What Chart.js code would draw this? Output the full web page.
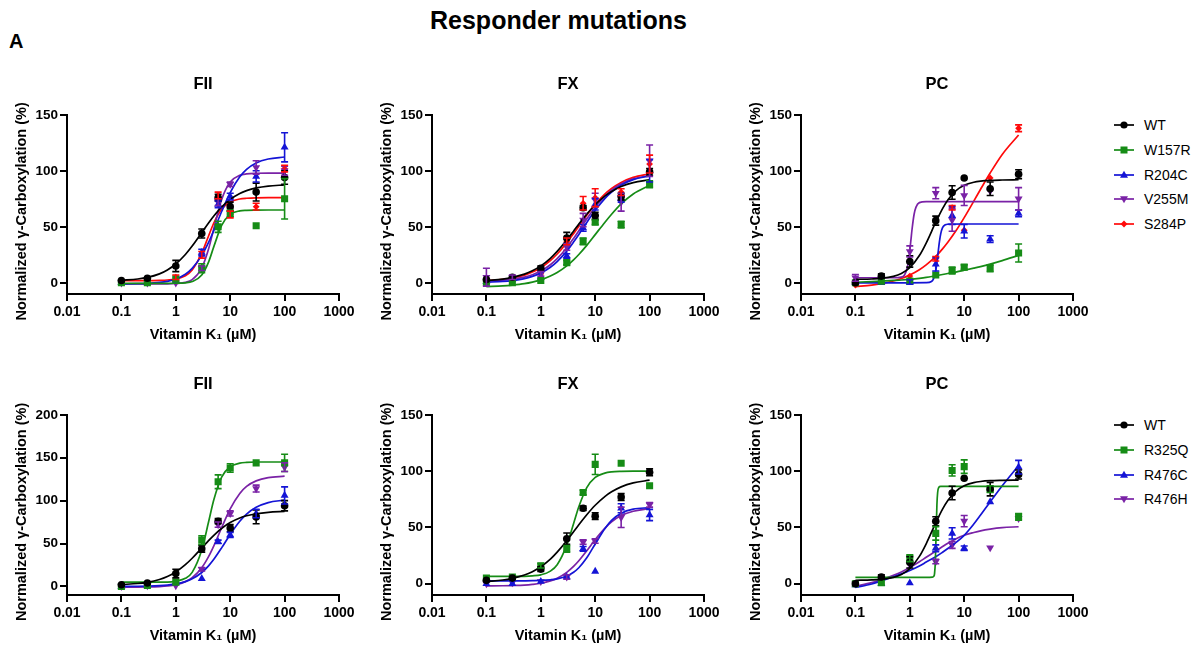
<!DOCTYPE html>
<html>
<head>
<meta charset="utf-8">
<script src="https://cdn.jsdelivr.net/npm/chart.js@4.4.1/dist/chart.umd.min.js"></script>
<style>
  body { margin: 0; width: 1199px; height: 646px; background: #fff; position: relative; overflow: hidden;
         font-family: "Liberation Sans", Arial, sans-serif; color: #000; }
  canvas { position: absolute; }
  #title { position: absolute; left: 0; width: 1117px; top: 6px; text-align: center; font-weight: bold; font-size: 25px; line-height: 28px; }
  #letter { position: absolute; left: 9px; top: 31px; font-weight: bold; font-size: 20px; line-height: 20px; }
  .leg { position: absolute; left: 1114px; height: 16px; white-space: nowrap; }
  .leg svg { position: absolute; left: 0; top: 2px; }
  .leg span { position: absolute; left: 30px; top: 0; font-size: 14px; line-height: 16px; }
</style>
</head>
<body>
<div id="title">Responder mutations</div>
<div id="letter">A</div>

<canvas id="topFII" width="360" height="280" style="left:0px;top:70px"></canvas>
<canvas id="topFX" width="360" height="280" style="left:365px;top:70px"></canvas>
<canvas id="topPC" width="360" height="280" style="left:734px;top:70px"></canvas>
<canvas id="botFII" width="360" height="281" style="left:0px;top:370px"></canvas>
<canvas id="botFX" width="360" height="281" style="left:365px;top:370px"></canvas>
<canvas id="botPC" width="360" height="281" style="left:734px;top:370px"></canvas>

<script>
// doses (µM) for the measured points and for the fitted curves
const doses = [0.1, 0.3, 1, 3, 6, 10, 30, 100];
const fitDoses = [0.1, 0.2, 0.3, 0.5, 0.7, 1, 1.5, 2, 3, 4, 5, 7, 10, 15, 20, 30, 50, 100];
const xTicks = [0.01, 0.1, 1, 10, 100, 1000];
const yTicks150 = [0, 50, 100, 150];
const yTicks200 = [0, 50, 100, 150, 200];

const legendTop = ['WT', 'W157R', 'R204C', 'V255M', 'S284P'];
const legendBottom = ['WT', 'R325Q', 'R476C', 'R476H'];

// WT (same measurements in both rows)
const wtFII = [2, 4, 15, 44, 76, 68, 81, 94];
const wtFIIsd = [1, 1, 5, 4, 3, 4, 8, 6];
const wtFIIfit = [2.2, 3.4, 4.8, 8.0, 11.5, 16.8, 25.3, 32.8, 44.8, 53.4, 59.6, 67.8, 74.5, 79.8, 82.3, 84.7, 86.4, 87.4];
const wtFX = [3, 5, 13, 40, 67, 60, 77, 99];
const wtFXsd = [1, 1, 2, 5, 2, 3, 3, 3];
const wtFXfit = [2.0, 3.3, 4.8, 7.7, 10.7, 15.1, 21.9, 28.1, 38.2, 46.1, 52.4, 61.3, 69.7, 77.4, 81.6, 86.0, 89.5, 92.0];
const wtPC = [0, 6, 19, 55.5, 80.6, 93.6, 84, 97];
const wtPCsd = [1, 2, 5, 4, 6, 1, 6, 4];
const wtPCfit = [3.1, 3.4, 3.9, 5.7, 8.3, 13.5, 24.3, 35.5, 54.1, 66.3, 74.0, 82.1, 87.0, 89.8, 90.8, 91.5, 91.8, 92.0];

// top row, FII
const w157rFII = [0, 0, 3.5, 13, 50, 62, 51, 75];
const w157rFIIsd = [0, 0, 1, 4, 5, 3, 0, 18];
const w157rFIIfit = [-0.5, -0.5, -0.5, -0.5, -0.5, -0.4, 0.0, 1.1, 7.0, 18.5, 32.3, 51.5, 61.1, 64.2, 64.7, 64.9, 65.0, 65.0];
const r204cFII = [0, 0, 2, 27, 70, 77, 95, 121];
const r204cFIIsd = [0, 0, 1, 3, 3, 3, 5, 13];
const r204cFIIfit = [-0.9, -0.8, -0.5, 0.3, 1.3, 3.4, 7.7, 12.9, 24.5, 36.1, 46.7, 63.9, 80.5, 94.6, 101.3, 107.0, 110.5, 112.3];
const v255mFII = [0, 0, 0, 13, 72, 88, 103, 100];
const v255mFIIsd = [0, 0, 0, 2, 3, 2, 6, 4];
const v255mFIIfit = [-1, -1, -1, -1, -1, -0.6, 0.4, 2.9, 13.2, 30.1, 48.5, 74.7, 90.0, 95.9, 97.2, 97.8, 98.0, 98.0];
const s284pFII = [1, 1, 5, 25, 78, 61, 68, 102];
const s284pFIIsd = [0, 0, 2, 3, 3, 3, 3, 3];
const s284pFIIfit = [2.0, 2.0, 2.0, 2.2, 2.5, 3.3, 6.3, 11.4, 26.4, 41.8, 53.4, 65.8, 72.1, 74.8, 75.5, 75.9, 76.0, 76.0];

// top row, FX
const w157rFX = [0, 0, 2, 18, 37, 54, 52, 88];
const w157rFXsd = [1, 1, 1, 2, 3, 2, 3, 3];
const w157rFXfit = [-3.4, -2.8, -2.1, -0.8, 0.6, 2.6, 6.0, 9.2, 15.1, 20.5, 25.3, 33.4, 43.0, 53.9, 61.2, 70.4, 79.3, 87.0];
const r204cFX = [1, 3, 5, 24, 49, 70, 75, 100];
const r204cFXsd = [1, 1, 1, 2, 3, 5, 3, 10];
const r204cFXfit = [0.5, 1.2, 2.0, 3.7, 5.7, 8.7, 13.9, 19.0, 28.3, 36.4, 43.2, 53.9, 64.7, 75.2, 81.0, 87.2, 92.1, 95.5];
const v255mFX = [5, 5, 8, 32, 56, 74, 72, 109];
const v255mFXsd = [8, 2, 2, 3, 6, 6, 8, 14];
const v255mFXfit = [1.5, 2.3, 3.2, 5.1, 7.2, 10.5, 16.1, 21.5, 31.3, 39.6, 46.5, 57.0, 67.4, 77.3, 82.7, 88.4, 92.8, 95.8];
const s284pFX = [2, 4, 8, 37, 71, 76, 81, 106];
const s284pFXsd = [1, 1, 1, 3, 6, 8, 3, 8];
const s284pFXfit = [1.9, 3.0, 4.3, 6.9, 9.6, 13.5, 19.9, 25.7, 35.8, 43.9, 50.5, 60.4, 70.0, 79.1, 84.2, 89.6, 94.1, 97.4];

// top row, PC
const w157rPC = [0, 1.5, 1.5, 7, 11, 14, 13, 26.6];
const w157rPCsd = [0, 1, 1, 1, 3, 2, 3, 8];
const w157rPCfit = [0.5, 1.1, 1.5, 2.1, 2.5, 3.1, 4.0, 4.8, 6.3, 7.4, 8.3, 9.6, 11.2, 13.1, 14.5, 16.7, 19.8, 24.5];
const r204cPC = [0, 0, 0.7, 16.5, 60, 46, 39, 62];
const r204cPCsd = [0, 0, 2, 6, 8, 6, 3, 3];
const r204cPCfitX = [0.1, 1, 2, 2.5, 2.7, 2.9, 3.1, 3.3, 3.5, 3.7, 4, 4.5, 5, 10, 100];
const r204cPCfit = [0, 0, 0.1, 1.1, 3.0, 7.4, 15.4, 26.3, 36.5, 43.7, 49.2, 51.8, 52.3, 52.5, 52.5];
const v255mPC = [4.4, 4, 28, 80, 56, 78, 82, 75];
const v255mPCsd = [3, 1, 5, 5, 10, 9, 0, 10];
const v255mPCfitX = [0.1, 0.3, 0.5, 0.7, 0.8, 0.9, 0.95, 1, 1.05, 1.1, 1.2, 1.3, 1.5, 2, 10, 100];
const v255mPCfit = [4.5, 4.5, 4.5, 5.0, 7.0, 13.7, 20.0, 28.8, 38.5, 47.8, 61.2, 67.6, 71.6, 72.5, 72.5, 72.5];
const s284pPC = [-2, 1, 6, 21.5, 67, 47, 93.6, 138];
const s284pPCsd = [0, 0, 1, 2, 2, 0, 1, 3];
const s284pPCfit = [-3.4, -2.0, -0.7, 1.6, 3.8, 7.0, 11.7, 16.0, 23.6, 30.3, 36.2, 46.2, 58.2, 72.9, 83.5, 98.0, 114.6, 132.0];

// bottom row, FII
const r325qFII = [0, 1, 5, 54, 122, 138, 144, 144];
const r325qFIIsd = [0, 0, 1, 5, 8, 5, 1, 10];
const r325qFIIfit = [5.0, 5.0, 5.0, 5.0, 5.0, 6.1, 9.4, 16.4, 42.4, 75.0, 101.0, 127.7, 139.5, 143.6, 144.5, 145.0, 145.0, 145.0];
const r476cFII = [0, 1, 4, 9, 52, 60, 85, 106];
const r476cFIIsd = [0, 0, 1, 1, 2, 3, 5, 10];
const r476cFIIfit = [0.1, 0.2, 0.4, 0.9, 1.6, 2.9, 5.6, 8.8, 16.2, 24.0, 31.6, 45.2, 60.6, 75.9, 84.3, 92.2, 97.7, 100.6];
const r476hFII = [0, 1, 1, 20, 72, 85, 114, 139];
const r476hFIIsd = [0, 0, 1, 2, 3, 3, 4, 5];
const r476hFIIfit = [-1.0, -0.9, -0.7, -0.2, 0.5, 2.0, 5.6, 10.2, 21.8, 34.7, 47.3, 68.8, 90.4, 108.4, 116.6, 123.0, 126.8, 128.5];

// bottom row, FX
const r325qFX = [5, 6, 16, 31, 81, 106, 107, 87];
const r325qFXsd = [1, 1, 2, 3, 2, 9, 1, 1];
const r325qFXfit = [6.5, 6.5, 6.5, 6.6, 7.0, 7.9, 11.2, 16.9, 34.3, 53.3, 68.3, 85.3, 94.4, 98.2, 99.3, 99.8, 100.0, 100.0];
const r476cFX = [0, 0, 2, 6, 31, 11, 67, 61];
const r476cFXsd = [0, 0, 1, 1, 2, 1, 4, 5];
const r476cFXfit = [2.5, 2.5, 2.5, 2.6, 2.7, 2.9, 3.5, 4.3, 6.8, 10.2, 14.2, 23.0, 35.3, 48.9, 56.3, 62.6, 66.2, 67.6];
const r476hFX = [0, 1, 2, 6, 37, 38, 59, 70];
const r476hFXsd = [0, 0, 1, 2, 2, 2, 9, 2];
const r476hFXfit = [-1.9, -1.8, -1.6, -1.2, -0.6, 0.4, 2.5, 4.9, 10.1, 15.4, 20.4, 29.3, 39.2, 49.2, 54.9, 60.5, 64.4, 66.8];

// bottom row, PC
const r325qPC = [0, 1, 22.6, 44.7, 100.6, 104, 84, 59.4];
const r325qPCsd = [0, 1, 3, 6, 5, 6, 3, 3];
const r325qPCfitX = [0.1, 1, 2, 2.6, 2.75, 2.85, 2.95, 3.05, 3.15, 3.25, 3.4, 3.7, 10, 100];
const r325qPCfit = [5.6, 5.6, 5.6, 5.8, 6.5, 9, 20, 46, 70, 81, 85.5, 86.4, 86.5, 86.5];
const r476cPC = [-1, 0, 0.6, 31.5, 44.7, 31.5, 72.6, 103.5];
const r476cPCsd = [0, 0, 0, 3, 5, 2, 1, 6];
const r476cPCfit = [-3.2, -0.2, 2.6, 6.2, 8.8, 11.8, 15.8, 19.2, 24.0, 28.0, 31.3, 36.5, 43.0, 53.0, 61.0, 72.6, 87.0, 105.0];
const r476hPC = [0, 2, 17, 19.7, 34.4, 55.6, 32, 58];
const r476hPCsd = [0, 0, 1, 2, 3, 5, 0, 0];
const r476hPCfit = [-2.3, 1.0, 3.5, 7.5, 10.5, 14.4, 19.5, 23.5, 29.0, 33.0, 36.0, 39.8, 43.0, 45.5, 47.0, 48.5, 49.8, 50.6];

// look of each genotype
const GREEN = '#168c16', BLUE = '#1414d6', PURPLE = '#7a22a6', RED = '#ff0a0a';
const styles = {
  WT:    { color: '#000000', marker: 'circle',   radius: 3.8, rotation: 0 },
  W157R: { color: GREEN,     marker: 'rect',     radius: 5,   rotation: 0 },
  R325Q: { color: GREEN,     marker: 'rect',     radius: 5,   rotation: 0 },
  R204C: { color: BLUE,      marker: 'triangle', radius: 4.6, rotation: 0 },
  R476C: { color: BLUE,      marker: 'triangle', radius: 4.6, rotation: 0 },
  V255M: { color: PURPLE,    marker: 'triangle', radius: 4.6, rotation: 180 },
  R476H: { color: PURPLE,    marker: 'triangle', radius: 4.6, rotation: 180 },
  S284P: { color: RED,       marker: 'rectRot',  radius: 3.4, rotation: 0 }
};

const FONT = '"Liberation Sans", Arial, sans-serif';
const Y_TITLE = 'Normalized \u03b3-Carboxylation (%)';

Chart.defaults.font.family = FONT;
Chart.defaults.font.weight = 'bold';
Chart.defaults.color = '#000';

// vertical SD bars with caps, drawn on top of the marks
const errorBars = {
  id: 'errorBars',
  afterDatasetsDraw(chart) {
    const { ctx } = chart;
    const xs = chart.scales.x, ys = chart.scales.y;
    chart.data.datasets.forEach(ds => {
      if (!ds.sd) return;
      ctx.save();
      ctx.strokeStyle = ds.borderColor;
      ctx.lineWidth = 1.6;
      ds.data.forEach((p, i) => {
        const sd = ds.sd[i];
        if (!sd || sd < 1.5) return;
        const px = xs.getPixelForValue(p.x);
        const top = ys.getPixelForValue(p.y + sd);
        const bot = ys.getPixelForValue(p.y - sd);
        ctx.beginPath();
        ctx.moveTo(px, top); ctx.lineTo(px, bot);
        ctx.moveTo(px - 3.5, top); ctx.lineTo(px + 3.5, top);
        ctx.moveTo(px - 3.5, bot); ctx.lineTo(px + 3.5, bot);
        ctx.stroke();
      });
      ctx.restore();
    });
  }
};

// rotated y title, centred a little below the middle of the axis
const yTitle = {
  id: 'yTitle',
  afterDraw(chart) {
    const { ctx, chartArea } = chart;
    ctx.save();
    ctx.translate(22, (chartArea.top + chartArea.bottom) / 2 + 7);
    ctx.rotate(-Math.PI / 2);
    ctx.textAlign = 'center';
    ctx.textBaseline = 'middle';
    ctx.fillStyle = '#000';
    ctx.font = 'bold 14.5px ' + FONT;
    ctx.fillText(Y_TITLE, 0, 0);
    ctx.restore();
  }
};

function series(name, y, sd, fit, fitX) {
  return { name, y, sd, fit, fitX: fitX || fitDoses };
}

function makePanel(id, title, yMax, yTicks, list) {
  const datasets = [];
  list.forEach(s => {
    const st = styles[s.name];
    datasets.push({
      label: s.name,
      data: s.y.map((v, i) => ({ x: doses[i], y: v })),
      sd: s.sd,
      showLine: false,
      pointStyle: st.marker,
      pointRotation: st.rotation,
      pointRadius: st.radius,
      pointBorderWidth: 0,
      backgroundColor: st.color,
      borderColor: st.color
    });
    datasets.push({
      label: s.name + ' fit',
      data: s.fit.map((v, i) => ({ x: s.fitX[i], y: v })),
      borderColor: st.color,
      borderWidth: 1.7,
      pointRadius: 0,
      fill: false,
      cubicInterpolationMode: 'monotone'
    });
  });

  const axisLine = { color: '#000', width: 2 };
  const tickMarks = { drawOnChartArea: false, drawTicks: true, tickLength: 7, color: '#000', lineWidth: 2 };

  return new Chart(document.getElementById(id), {
    type: 'line',
    data: { datasets },
    plugins: [errorBars, yTitle],
    options: {
      responsive: false,
      animation: false,
      layout: { padding: { left: 0, right: 21, top: 0, bottom: 0 } },
      plugins: {
        legend: { display: false },
        tooltip: { enabled: false },
        title: {
          display: true, text: title, fullSize: false,
          font: { size: 16.5, weight: 'bold' },
          padding: { top: 5, bottom: 20 }
        }
      },
      scales: {
        x: {
          type: 'logarithmic', min: 0.01, max: 1000,
          border: axisLine, grid: tickMarks,
          afterBuildTicks: sc => { sc.ticks = xTicks.map(v => ({ value: v })); },
          afterFit: sc => { sc.height = 56; },
          ticks: { font: { size: 14 }, padding: 3, maxRotation: 0, autoSkip: false, callback: v => String(v) },
          title: { display: true, text: 'Vitamin K\u2081 (\u00b5M)', font: { size: 14.5, weight: 'bold' }, padding: { top: 0, bottom: 6 } }
        },
        y: {
          type: 'linear', min: -10, max: yMax,
          border: axisLine, grid: tickMarks,
          afterBuildTicks: sc => { sc.ticks = yTicks.map(v => ({ value: v })); },
          afterFit: sc => { sc.width = 67; },
          ticks: { font: { size: 13.5 }, padding: 2, callback: v => String(v) }
        }
      }
    }
  });
}

makePanel('topFII', 'FII', 150, yTicks150, [
  series('WT', wtFII, wtFIIsd, wtFIIfit),
  series('W157R', w157rFII, w157rFIIsd, w157rFIIfit),
  series('R204C', r204cFII, r204cFIIsd, r204cFIIfit),
  series('V255M', v255mFII, v255mFIIsd, v255mFIIfit),
  series('S284P', s284pFII, s284pFIIsd, s284pFIIfit)
]);
makePanel('topFX', 'FX', 150, yTicks150, [
  series('WT', wtFX, wtFXsd, wtFXfit),
  series('W157R', w157rFX, w157rFXsd, w157rFXfit),
  series('R204C', r204cFX, r204cFXsd, r204cFXfit),
  series('V255M', v255mFX, v255mFXsd, v255mFXfit),
  series('S284P', s284pFX, s284pFXsd, s284pFXfit)
]);
makePanel('topPC', 'PC', 150, yTicks150, [
  series('WT', wtPC, wtPCsd, wtPCfit),
  series('W157R', w157rPC, w157rPCsd, w157rPCfit),
  series('R204C', r204cPC, r204cPCsd, r204cPCfit, r204cPCfitX),
  series('V255M', v255mPC, v255mPCsd, v255mPCfit, v255mPCfitX),
  series('S284P', s284pPC, s284pPCsd, s284pPCfit)
]);
makePanel('botFII', 'FII', 200, yTicks200, [
  series('WT', wtFII, wtFIIsd, wtFIIfit),
  series('R325Q', r325qFII, r325qFIIsd, r325qFIIfit),
  series('R476C', r476cFII, r476cFIIsd, r476cFIIfit),
  series('R476H', r476hFII, r476hFIIsd, r476hFIIfit)
]);
makePanel('botFX', 'FX', 150, yTicks150, [
  series('WT', wtFX, wtFXsd, wtFXfit),
  series('R325Q', r325qFX, r325qFXsd, r325qFXfit),
  series('R476C', r476cFX, r476cFXsd, r476cFXfit),
  series('R476H', r476hFX, r476hFXsd, r476hFXfit)
]);
makePanel('botPC', 'PC', 150, yTicks150, [
  series('WT', wtPC, wtPCsd, wtPCfit),
  series('R325Q', r325qPC, r325qPCsd, r325qPCfit, r325qPCfitX),
  series('R476C', r476cPC, r476cPCsd, r476cPCfit),
  series('R476H', r476hPC, r476hPCsd, r476hPCfit)
]);

// legends: line with the symbol, then the genotype name
function markerShape(st) {
  const c = st.color;
  if (st.marker === 'circle') return `<circle cx="10" cy="6" r="3.6" fill="${c}"/>`;
  if (st.marker === 'rect') return `<rect x="6.5" y="2.5" width="7" height="7" fill="${c}"/>`;
  if (st.marker === 'rectRot') return `<polygon points="10,2.6 13.4,6 10,9.4 6.6,6" fill="${c}"/>`;
  if (st.rotation === 180) return `<polygon points="10,10.2 14,3.3 6,3.3" fill="${c}"/>`;
  return `<polygon points="10,1.8 14,8.7 6,8.7" fill="${c}"/>`;
}
function makeLegend(names, firstRowCenter) {
  names.forEach((name, i) => {
    const st = styles[name];
    const row = document.createElement('div');
    row.className = 'leg';
    row.style.top = (firstRowCenter + i * 24.8 - 8) + 'px';
    row.innerHTML = `<svg width="20" height="12"><line x1="0" y1="6" x2="20" y2="6" stroke="${st.color}" stroke-width="1.7"/>${markerShape(st)}</svg><span>${name}</span>`;
    document.body.appendChild(row);
  });
}
makeLegend(legendTop, 125);
makeLegend(legendBottom, 425);
</script>
</body>
</html>
